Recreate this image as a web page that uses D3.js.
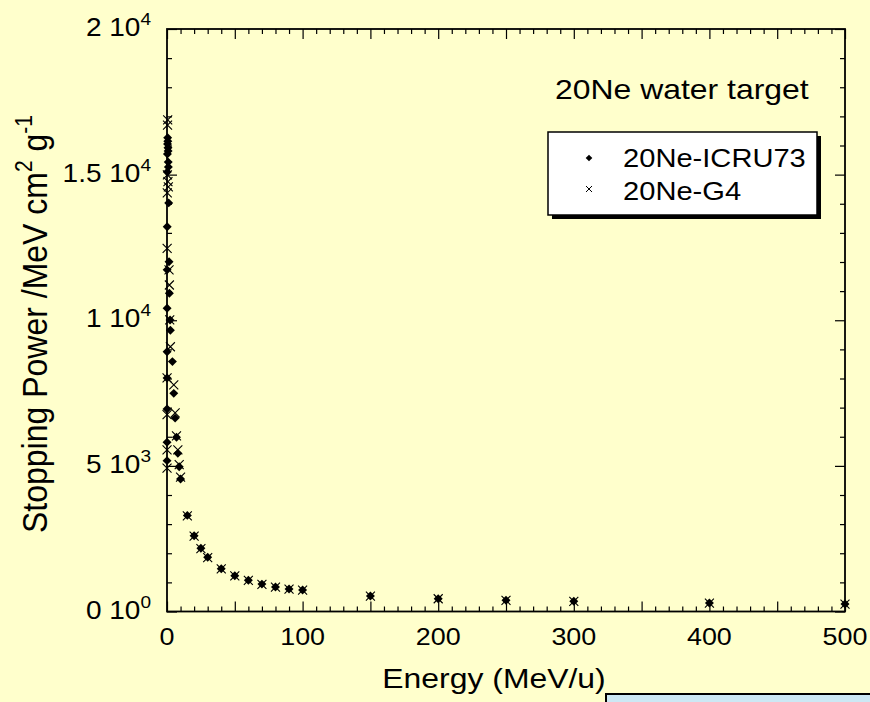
<!DOCTYPE html>
<html>
<head>
<meta charset="utf-8">
<script src="https://cdn.jsdelivr.net/npm/d3@7"></script>
<style>
body { margin: 0; background: #ffffcc; }
svg { display: block; }
text { font-family: Arial, "Liberation Sans", Helvetica, sans-serif; fill: #000; }
</style>
</head>
<body>
<div id="chart"></div>
<script>

// ICRU73 values (diamonds)
var energyICRU = [0.025, 0.03, 0.04, 0.05, 0.06, 0.08, 0.1, 0.15, 0.2, 0.3, 0.4, 0.5, 0.6, 0.7, 0.8, 0.9, 1.0,
    1.25, 1.5, 1.75, 2.25, 2.5, 4, 5, 6, 7, 8, 9, 10, 15, 20, 25, 30, 40, 50, 60, 70, 80, 90, 100,
    150, 200, 250, 300, 400, 500];
var spICRU = [5180, 5810, 6950, 8020, 8920, 10410, 11730, 13210, 15090, 15710, 16050, 16270, 16150, 15920, 15810, 15430, 15260,
    14030, 12010, 10930, 10010, 9660, 8580, 7490, 6640, 5980, 5430, 4970, 4550, 3300, 2600, 2170, 1860, 1470, 1230, 1070, 940, 840, 770, 738,
    532, 440, 385, 350, 292, 258];

// Geant4 values (crosses)
var energyG4 = [0.025, 0.03, 0.04, 0.05, 0.1, 0.2, 0.3, 0.4, 0.5, 0.7, 1.0, 1.5, 1.75, 2.0, 2.5,
    5, 6, 7, 8, 9, 10, 15, 20, 25, 30, 40, 50, 60, 70, 80, 90, 100,
    150, 200, 250, 300, 400, 500];
var spG4 = [4920, 5550, 6760, 8020, 12470, 14370, 14990, 16700, 16880, 14760, 14580, 11730, 11210, 10010, 9090,
    7780, 6820, 6030, 5550, 5040, 4610, 3280, 2590, 2160, 1850, 1460, 1225, 1065, 935, 835, 765, 735,
    530, 438, 383, 348, 290, 256];

var seriesNames = ["20Ne-ICRU73", "20Ne-G4"];
var chartTitle = "20Ne water target";

// tick labels
var xTickVals = [0, 100, 200, 300, 400, 500];
var yTickVals = [0, 5000, 10000, 15000, 20000];
var yTickMant = ["0", "5", "1", "1.5", "2"];
var yTickExp = ["0", "3", "4", "4", "4"];

var W = 870, H = 702;
var margin = {top: 29, right: 25, bottom: 90.5, left: 167};
var width = W - margin.left - margin.right,
    height = H - margin.top - margin.bottom;
var sx = 1.12; // text in the picture is a bit wider than normal

var svg = d3.select("#chart")
    .append("svg")
    .attr("width", W)
    .attr("height", H);

svg.append("rect")
    .attr("width", W)
    .attr("height", H)
    .attr("fill", "#ffffcc");

var g = svg.append("g")
    .attr("transform", "translate(" + margin.left + "," + margin.top + ")");

var x = d3.scaleLinear().domain([0, 500]).range([0, width]);
var y = d3.scaleLinear().domain([0, 20000]).range([height, 0]);

var minorX = d3.range(0, 501, 10).filter(function(d) { return d % 50 != 0; });
var majorX = d3.range(0, 501, 50);
var minorY = d3.range(0, 20001, 1000).filter(function(d) { return d % 5000 != 0; });
var majorY = d3.range(0, 20001, 5000);

function noDomain(sel) { sel.select(".domain").remove(); }

// ticks, all pointing inside
g.append("g").attr("transform", "translate(0," + height + ")")
    .call(d3.axisBottom(x).tickValues(minorX).tickSize(-5).tickFormat("")).call(noDomain);
g.append("g").attr("transform", "translate(0," + height + ")")
    .call(d3.axisBottom(x).tickValues(majorX).tickSize(-10).tickFormat("")).call(noDomain);
g.append("g")
    .call(d3.axisTop(x).tickValues(minorX).tickSize(-5).tickFormat("")).call(noDomain);
g.append("g")
    .call(d3.axisTop(x).tickValues(majorX).tickSize(-10).tickFormat("")).call(noDomain);
g.append("g")
    .call(d3.axisLeft(y).tickValues(minorY).tickSize(-5).tickFormat("")).call(noDomain);
g.append("g")
    .call(d3.axisLeft(y).tickValues(majorY).tickSize(-10).tickFormat("")).call(noDomain);
g.append("g").attr("transform", "translate(" + width + ",0)")
    .call(d3.axisRight(y).tickValues(minorY).tickSize(-5).tickFormat("")).call(noDomain);
g.append("g").attr("transform", "translate(" + width + ",0)")
    .call(d3.axisRight(y).tickValues(majorY).tickSize(-10).tickFormat("")).call(noDomain);

g.selectAll(".tick line").attr("stroke", "#000").attr("stroke-width", 1.2);

// frame
g.append("rect")
    .attr("width", width)
    .attr("height", height)
    .attr("fill", "none")
    .attr("stroke", "#000")
    .attr("stroke-width", 1.8);

// x tick labels
g.selectAll(".xlab")
    .data(xTickVals)
    .enter().append("text")
    .attr("class", "xlab")
    .attr("transform", function(d) { return "translate(" + x(d) + "," + (height + 33.5) + ") scale(" + sx + ",1)"; })
    .attr("text-anchor", "middle")
    .style("font-size", "24px")
    .text(function(d) { return d; });

// y tick labels like "1.5 10^4"
var ylab = g.selectAll(".ylab")
    .data(yTickVals)
    .enter().append("text")
    .attr("class", "ylab")
    .attr("transform", function(d) { return "translate(-16," + (y(d) + 7) + ") scale(" + sx + ",1)"; })
    .attr("text-anchor", "end")
    .style("font-size", "25px");
ylab.append("tspan").text(function(d, i) { return yTickMant[i] + " 10"; });
ylab.append("tspan")
    .attr("dy", -11)
    .style("font-size", "17px")
    .text(function(d, i) { return yTickExp[i]; });

// axis titles
svg.append("text")
    .attr("transform", "translate(494,688) scale(" + sx + ",1)")
    .attr("text-anchor", "middle")
    .style("font-size", "28.5px")
    .text("Energy (MeV/u)");

var yt = svg.append("text")
    .attr("transform", "translate(47,324) scale(" + sx + ",1) rotate(-90)")
    .attr("text-anchor", "middle")
    .style("font-size", "32px");
yt.append("tspan").text("Stopping Power /MeV cm");
yt.append("tspan").attr("dy", -13).style("font-size", "21px").text("2");
yt.append("tspan").attr("dy", 13).text(" g");
yt.append("tspan").attr("dy", -13).style("font-size", "21px").text("-1");

// chart title
svg.append("text")
    .attr("transform", "translate(555,99) scale(" + sx + ",1)")
    .style("font-size", "28.5px")
    .text(chartTitle);

// markers
var diamond = d3.symbol().type(d3.symbolSquare).size(40);
var cross = "M-4.5,-4.5L4.5,4.5M-4.5,4.5L4.5,-4.5";

var dataICRU = energyICRU.map(function(e, i) { return {e: e, s: spICRU[i]}; });
var dataG4 = energyG4.map(function(e, i) { return {e: e, s: spG4[i]}; });

g.selectAll(".icru")
    .data(dataICRU)
    .enter().append("path")
    .attr("class", "icru")
    .attr("d", diamond)
    .attr("transform", function(d) { return "translate(" + x(d.e) + "," + y(d.s) + ") rotate(45)"; })
    .attr("fill", "#000");

g.selectAll(".g4")
    .data(dataG4)
    .enter().append("path")
    .attr("class", "g4")
    .attr("d", cross)
    .attr("transform", function(d) { return "translate(" + x(d.e) + "," + y(d.s) + ")"; })
    .attr("fill", "none")
    .attr("stroke", "#000")
    .attr("stroke-width", 1.1);

// legend
var leg = svg.append("g").attr("transform", "translate(548,132)");
leg.append("rect")
    .attr("x", 4).attr("y", 4)
    .attr("width", 269).attr("height", 83)
    .attr("fill", "#000");
leg.append("rect")
    .attr("width", 269).attr("height", 83)
    .attr("fill", "#fff")
    .attr("stroke", "#000")
    .attr("stroke-width", 1.5);
leg.append("path")
    .attr("d", d3.symbol().type(d3.symbolSquare).size(22))
    .attr("transform", "translate(41,26) rotate(45)")
    .attr("fill", "#000");
leg.append("path")
    .attr("d", "M-3,-3L3,3M-3,3L3,-3")
    .attr("transform", "translate(41,57)")
    .attr("stroke", "#000")
    .attr("stroke-width", 1);
leg.selectAll(".legtext")
    .data(seriesNames)
    .enter().append("text")
    .attr("class", "legtext")
    .attr("transform", function(d, i) { return "translate(75," + (35 + i * 33) + ") scale(" + sx + ",1)"; })
    .style("font-size", "26px")
    .text(function(d) { return d; });

// light blue box cut off at the bottom right
svg.append("rect")
    .attr("x", 606).attr("y", 694)
    .attr("width", 300).attr("height", 40)
    .attr("fill", "#cce8f4")
    .attr("stroke", "#000")
    .attr("stroke-width", 2);

</script>
</body>
</html>
